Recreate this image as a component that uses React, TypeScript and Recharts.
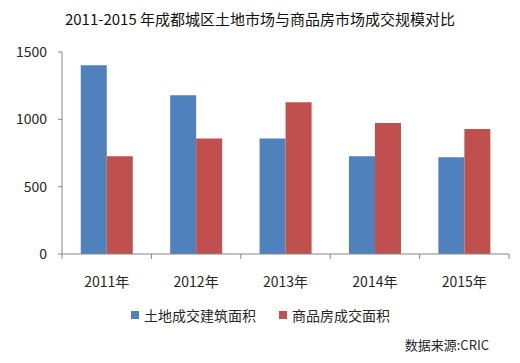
import React from 'react';
import { BarChart, Bar, XAxis, YAxis } from 'recharts';

// ---- data ----
const years = ['2011年', '2012年', '2013年', '2014年', '2015年'];
const landArea = [1402, 1178, 857, 726, 718];
const housingArea = [726, 857, 1126, 973, 928];
const seriesNames = ['土地成交建筑面积', '商品房成交面积'];
const yTicks = [0, 500, 1000, 1500];

const BLUE = '#4F81BD';
const RED = '#C0504D';
const AXIS = '#868686';
const TEXT = '#262626';
const FONT = '"Noto Sans CJK SC", "Noto Sans", sans-serif';

const CHART_W = 520;
const MARGIN = { top: 52, right: 11, left: 0, bottom: 49 };
const Y_AXIS_W = 62;

const data = years.map((year, i) => ({
  year,
  land: landArea[i],
  housing: housingArea[i],
}));

// year label at band centre, plus tick marks on the band boundaries
const YearTick = ({ x, y, payload, index }: any) => {
  const half =
    payload && payload.offset
      ? payload.offset
      : (CHART_W - MARGIN.left - MARGIN.right - Y_AXIS_W) / years.length / 2;
  const axisY = y;
  return (
    <g>
      <line x1={x - half} y1={axisY} x2={x - half} y2={axisY + 5} stroke={AXIS} />
      {index === years.length - 1 && (
        <line x1={x + half} y1={axisY} x2={x + half} y2={axisY + 5} stroke={AXIS} />
      )}
      <text x={x} y={axisY + 33} textAnchor="middle" fontFamily={FONT} fontSize={14} fill={TEXT}>
        {payload.value}
      </text>
    </g>
  );
};

const LegendItem = ({ color, label }: { color: string; label: string }) => (
  <div style={{ display: 'flex', alignItems: 'center', gap: 5 }}>
    <div style={{ width: 8, height: 8, backgroundColor: color }} />
    <span style={{ fontSize: 14, color: TEXT }}>{label}</span>
  </div>
);

export default function App() {
  return (
    <div
      style={{
        position: 'absolute',
        left: 0,
        top: 0,
        width: CHART_W,
        height: 363,
        background: '#fff',
        fontFamily: FONT,
      }}
    >
      {/* Title */}
      <div
        style={{
          position: 'absolute',
          top: 8,
          left: 0,
          width: CHART_W,
          textAlign: 'center',
          fontSize: 15,
          color: '#111',
          lineHeight: '22px',
        }}
      >
        2011-2015 年成都城区土地市场与商品房市场成交规模对比
      </div>

      <BarChart
        width={CHART_W}
        height={363}
        data={data}
        margin={MARGIN}
        barCategoryGap="21%"
        barGap={0}
      >
        <XAxis
          dataKey="year"
          interval={0}
          tickLine={false}
          tickSize={0}
          tickMargin={0}
          tick={<YearTick />}
          axisLine={{ stroke: AXIS }}
          height={60}
        />
        <YAxis
          domain={[0, 1500]}
          ticks={yTicks}
          width={Y_AXIS_W}
          tickSize={4}
          tickMargin={11}
          axisLine={{ stroke: AXIS }}
          tickLine={{ stroke: AXIS }}
          tick={{ fontFamily: FONT, fontSize: 14, fill: TEXT }}
        />
        <Bar dataKey="land" name={seriesNames[0]} fill={BLUE} isAnimationActive={false} />
        <Bar dataKey="housing" name={seriesNames[1]} fill={RED} isAnimationActive={false} />
      </BarChart>

      {/* Legend */}
      <div
        style={{
          position: 'absolute',
          top: 305,
          left: 131,
          display: 'flex',
          gap: 23,
        }}
      >
        <LegendItem color={BLUE} label={seriesNames[0]} />
        <LegendItem color={RED} label={seriesNames[1]} />
      </div>

      {/* Source */}
      <div
        style={{
          position: 'absolute',
          top: 335,
          right: 31,
          fontSize: 13,
          color: TEXT,
        }}
      >
        数据来源:CRIC
      </div>
    </div>
  );
}
